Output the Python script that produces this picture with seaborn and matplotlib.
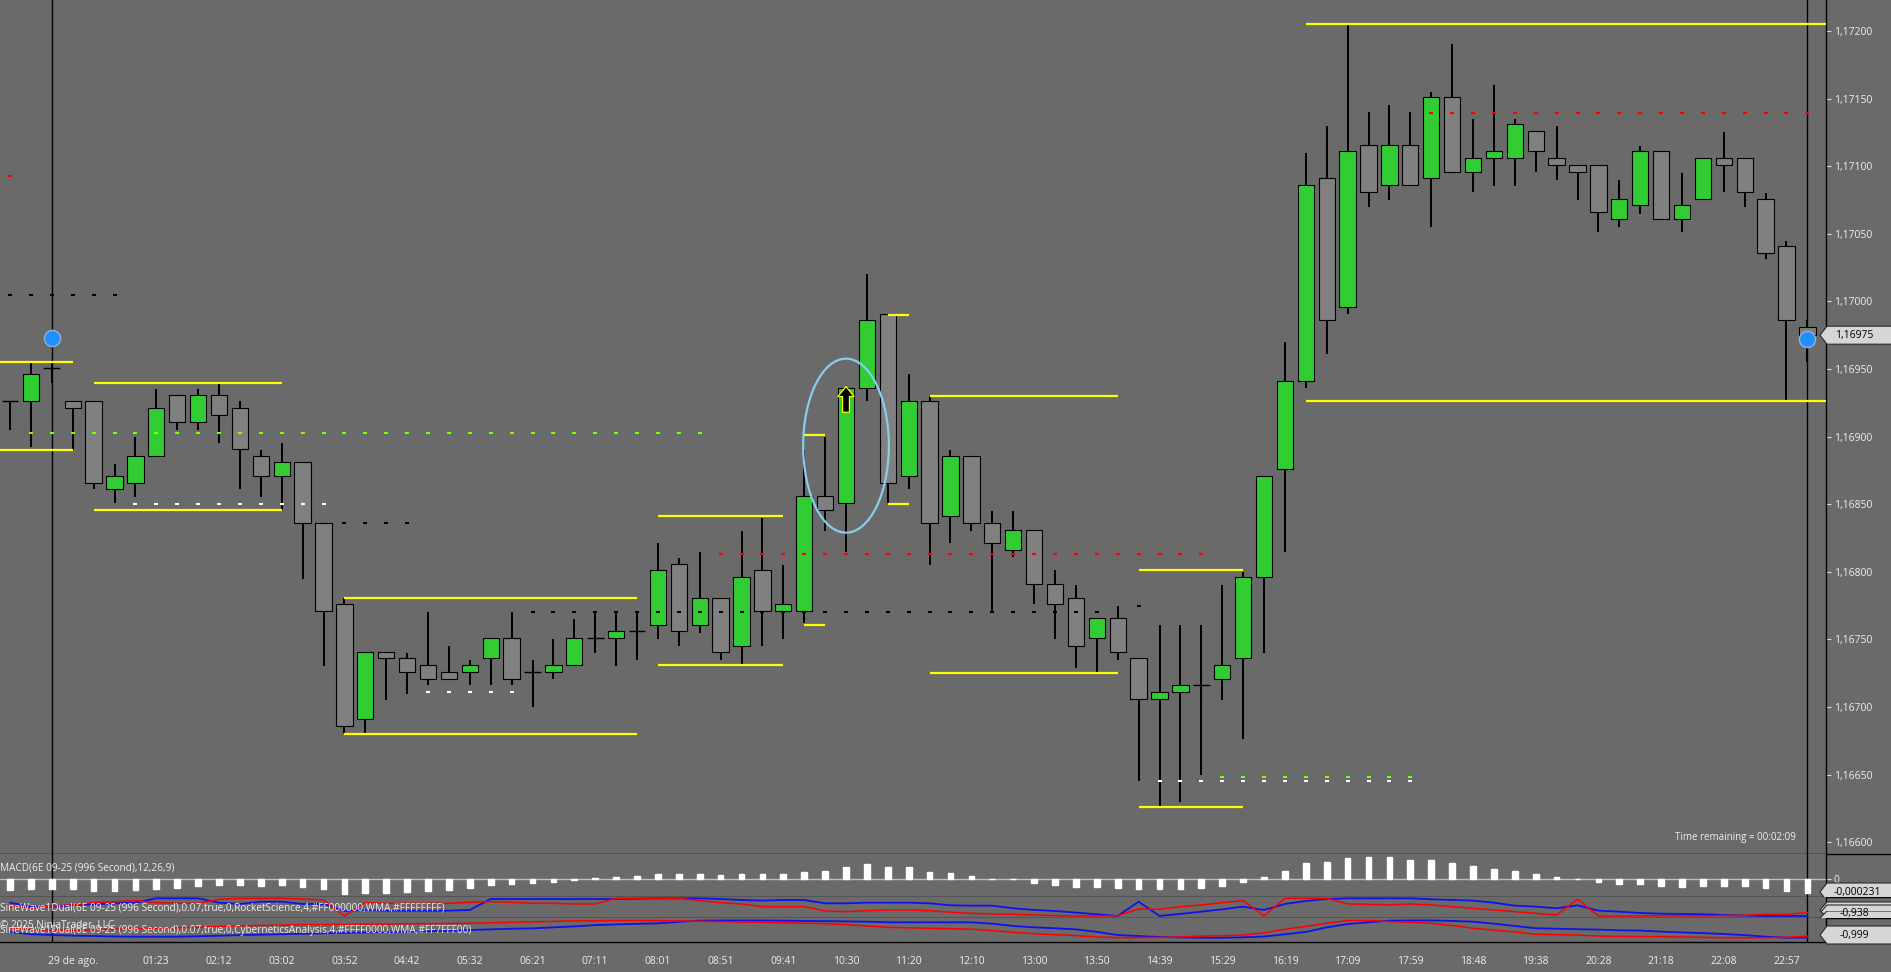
import numpy as np
import pandas as pd
import matplotlib
matplotlib.use("Agg")
import matplotlib.pyplot as plt
import seaborn as sns
from matplotlib.patches import Ellipse, Polygon, Rectangle

# === values: 6E 09-25, 996 second bars ===
opens = [1.16926, 1.16926, 1.16951, 1.16926, 1.16926, 1.16861, 1.16866, 1.16886, 1.16931, 1.16911,
         1.16931, 1.16921, 1.16886, 1.16871, 1.16881, 1.16836, 1.16776, 1.16691, 1.16741, 1.16736,
         1.16731, 1.16726, 1.16726, 1.16736, 1.16751, 1.16726, 1.16726, 1.16731, 1.16751, 1.16751,
         1.16756, 1.16761, 1.16806, 1.16761, 1.16781, 1.16745, 1.16801, 1.16771, 1.16771, 1.16856,
         1.16851, 1.16936, 1.16991, 1.16871, 1.16926, 1.16841, 1.16886, 1.16836, 1.16816, 1.16831,
         1.16791, 1.16781, 1.16751, 1.16766, 1.16736, 1.16706, 1.16711, 1.16716, 1.16721, 1.16736,
         1.16796, 1.16876, 1.16941, 1.17091, 1.16996, 1.17116, 1.17086, 1.17116, 1.17091, 1.17151,
         1.17096, 1.17106, 1.17106, 1.17126, 1.17106, 1.17101, 1.17101, 1.17061, 1.17071, 1.17111,
         1.17061, 1.17076, 1.17106, 1.17106, 1.17076, 1.17041, 1.16981]
highs = [1.16926, 1.16955, 1.16955, 1.16926, 1.16926, 1.16880, 1.16900, 1.16935, 1.16931, 1.16935,
         1.16940, 1.16926, 1.16890, 1.16895, 1.16881, 1.16836, 1.16781, 1.16741, 1.16741, 1.16740,
         1.16770, 1.16745, 1.16735, 1.16751, 1.16770, 1.16735, 1.16750, 1.16765, 1.16770, 1.16770,
         1.16770, 1.16821, 1.16810, 1.16815, 1.16781, 1.16830, 1.16840, 1.16805, 1.16890, 1.16900,
         1.16936, 1.17020, 1.16991, 1.16946, 1.16930, 1.16890, 1.16886, 1.16845, 1.16845, 1.16831,
         1.16801, 1.16790, 1.16766, 1.16775, 1.16736, 1.16761, 1.16761, 1.16761, 1.16790, 1.16800,
         1.16871, 1.16970, 1.17110, 1.17130, 1.17205, 1.17140, 1.17145, 1.17140, 1.17155, 1.17190,
         1.17135, 1.17160, 1.17135, 1.17126, 1.17130, 1.17101, 1.17101, 1.17090, 1.17115, 1.17111,
         1.17095, 1.17106, 1.17125, 1.17106, 1.17080, 1.17045, 1.16986]
lows = [1.16905, 1.16892, 1.16940, 1.16890, 1.16861, 1.16851, 1.16855, 1.16886, 1.16905, 1.16905,
        1.16895, 1.16861, 1.16855, 1.16846, 1.16795, 1.16730, 1.16681, 1.16681, 1.16705, 1.16710,
        1.16716, 1.16721, 1.16716, 1.16716, 1.16716, 1.16700, 1.16721, 1.16731, 1.16740, 1.16730,
        1.16735, 1.16750, 1.16745, 1.16755, 1.16735, 1.16730, 1.16745, 1.16750, 1.16762, 1.16830,
        1.16815, 1.16926, 1.16851, 1.16861, 1.16805, 1.16821, 1.16830, 1.16770, 1.16811, 1.16776,
        1.16750, 1.16729, 1.16726, 1.16735, 1.16645, 1.16626, 1.16630, 1.16650, 1.16705, 1.16676,
        1.16740, 1.16815, 1.16936, 1.16961, 1.16991, 1.17070, 1.17075, 1.17086, 1.17055, 1.17096,
        1.17081, 1.17085, 1.17085, 1.17096, 1.17090, 1.17075, 1.17051, 1.17055, 1.17065, 1.17061,
        1.17051, 1.17076, 1.17081, 1.17070, 1.17031, 1.16927, 1.16955]
closes = [1.16926, 1.16946, 1.16951, 1.16921, 1.16866, 1.16871, 1.16886, 1.16921, 1.16911, 1.16931,
          1.16916, 1.16891, 1.16871, 1.16881, 1.16836, 1.16771, 1.16686, 1.16741, 1.16736, 1.16726,
          1.16721, 1.16721, 1.16731, 1.16751, 1.16721, 1.16726, 1.16731, 1.16751, 1.16751, 1.16756,
          1.16756, 1.16801, 1.16756, 1.16781, 1.16741, 1.16796, 1.16771, 1.16776, 1.16856, 1.16846,
          1.16936, 1.16986, 1.16866, 1.16926, 1.16836, 1.16886, 1.16836, 1.16821, 1.16831, 1.16791,
          1.16776, 1.16745, 1.16766, 1.16741, 1.16706, 1.16711, 1.16716, 1.16716, 1.16731, 1.16796,
          1.16871, 1.16941, 1.17086, 1.16986, 1.17111, 1.17081, 1.17116, 1.17086, 1.17151, 1.17096,
          1.17106, 1.17111, 1.17131, 1.17111, 1.17101, 1.17096, 1.17066, 1.17076, 1.17111, 1.17061,
          1.17071, 1.17106, 1.17101, 1.17081, 1.17036, 1.16986, 1.16975]

macd_hist = [-0.000181, -0.000164, -0.000164, -0.000164, -0.000198, -0.000198, -0.000181, -0.000164, -0.000140, -0.000113,
             -0.000096, -0.000096, -0.000113, -0.000096, -0.000130, -0.000164, -0.000248, -0.000237, -0.000225, -0.000215,
             -0.000198, -0.000181, -0.000147, -0.000090, -0.000079, -0.000056, -0.000039, -0.000005, 0.000029, 0.000046,
             0.000063, 0.000096, 0.000096, 0.000096, 0.000079, 0.000096, 0.000096, 0.000096, 0.000123, 0.000140,
             0.000208, 0.000259, 0.000208, 0.000208, 0.000123, 0.000106, 0.000056, 0.000005, -0.000002, -0.000056,
             -0.000090, -0.000123, -0.000123, -0.000140, -0.000157, -0.000157, -0.000157, -0.000140, -0.000106, -0.000039,
             0.000039, 0.000140, 0.000275, 0.000292, 0.000360, 0.000377, 0.000377, 0.000326, 0.000326, 0.000275,
             0.000225, 0.000174, 0.000140, 0.000090, 0.000039, 0.000005, -0.000046, -0.000079, -0.000079, -0.000113,
             -0.000130, -0.000113, -0.000113, -0.000113, -0.000147, -0.000198, -0.000231]

sine1_blue = [0.51, 0.06, 0.06, 0.21, 0.32, 0.43, 0.51, 1.0, 1.0, 1.0,
              0.51, 0.36, 0.62, 0.62, 0.36, 0.36, -0.43, -0.32, -0.40, -0.40,
              -0.40, -0.40, -0.32, 0.92, 0.92, 0.92, 0.92, 0.92, 0.92, 0.92,
              0.95, 1.0, 1.0, 1.0, 0.92, 0.81, 0.74, 0.81, 0.81, 0.43,
              0.43, 0.51, 0.51, 0.51, 0.43, 0.21, 0.17, 0.17, -0.13, -0.32,
              -0.43, -0.62, -0.81, -1.0, 0.62, -1.0, -0.77, -0.51, -0.25, 0.06,
              -0.32, 0.36, 0.70, 0.92, 1.0, 1.0, 1.0, 1.0, 0.89, 0.81,
              0.74, 0.51, 0.17, 0.06, -0.13, 0.21, -0.40, -0.51, -0.66, -0.74,
              -0.77, -0.81, -0.89, -0.96, -1.0, -1.0, -1.0]
sine1_red = [0.06, -0.10, 0.13, 0.25, 0.51, 0.62, 0.74, 0.51, 0.43, 0.43,
             0.89, 1.0, 1.0, 1.0, 0.92, 0.81, -1.0, 0.51, 0.43, 0.43,
             0.43, 0.43, 0.55, 0.62, 0.55, 0.43, 0.43, 0.36, 0.36, 1.0,
             1.0, 1.0, 1.0, 0.74, 0.51, 0.36, 0.06, 0.06, 0.06, -0.43,
             -0.51, -0.40, -0.32, -0.32, -0.40, -0.58, -0.70, -0.77, -0.81, -0.89,
             -0.96, -1.0, -1.0, -0.96, -0.21, -0.25, 0.06, 0.25, 0.51, 0.74,
             -1.0, 1.0, 1.0, 1.0, 0.36, 0.32, 0.25, 0.36, 0.25, 0.06,
             -0.13, -0.32, -0.51, -0.70, -0.89, 0.92, -1.0, -1.0, -1.0, -0.98,
             -0.98, -0.98, -0.96, -0.92, -0.81, -0.81, -0.62]
sine2_blue = [-0.30, -0.55, -0.64, -0.70, -0.75, -0.80, -0.82, -0.82, -0.82, -0.78,
              -0.72, -0.64, -0.60, -0.55, -0.50, -0.45, -0.40, -0.36, -0.32, -0.27,
              -0.22, -0.18, -0.09, -0.02, 0.05, 0.09, 0.20, 0.30, 0.45, 0.52,
              0.58, 0.64, 0.80, 0.93, 0.95, 0.95, 0.95, 0.93, 0.90, 0.88,
              0.85, 0.82, 0.75, 0.75, 0.75, 0.75, 0.75, 0.60, 0.35, 0.20,
              0.10, -0.02, -0.30, -0.64, -0.75, -0.85, -0.90, -0.93, -0.93, -0.89,
              -0.80, -0.56, -0.30, 0.20, 0.56, 0.75, 0.93, 0.95, 0.95, 0.90,
              0.82, 0.60, 0.35, 0.10, 0.05, 0.00, -0.05, -0.12, -0.15, -0.27,
              -0.35, -0.43, -0.53, -0.65, -0.82, -0.93, -0.93]
sine2_red = [0.10, -0.05, -0.10, -0.10, -0.05, 0.00, 0.05, 0.10, 0.15, 0.20,
             0.30, 0.35, 0.40, 0.45, 0.50, 0.50, 0.52, 0.55, 0.55, 0.60,
             0.60, 0.62, 0.65, 0.70, 0.75, 0.80, 0.85, 0.90, 0.92, 0.95,
             0.95, 0.93, 0.90, 0.87, 0.82, 0.78, 0.74, 0.71, 0.65, 0.60,
             0.50, 0.35, 0.20, 0.15, 0.10, 0.05, 0.00, -0.15, -0.35, -0.50,
             -0.60, -0.70, -0.85, -0.93, -0.92, -0.90, -0.85, -0.75, -0.72, -0.64,
             -0.40, 0.00, 0.30, 0.65, 0.95, 0.95, 0.82, 0.75, 0.64, 0.40,
             0.10, -0.10, -0.30, -0.56, -0.60, -0.65, -0.75, -0.78, -0.80, -0.82,
             -0.85, -0.90, -0.93, -0.93, -0.93, -0.89, -0.75]

# range lines: first bar, last bar, upper price, lower price
range_first = [-1, 4, 16, 31, 38, 42, 44, 54, 62]
range_last = [3, 13, 30, 37, 39, 43, 53, 59, 88]
range_top = [1.16955, 1.16940, 1.16781, 1.16841, 1.16901, 1.16990, 1.16930, 1.16801, 1.17205]
range_bottom = [1.16890, 1.16846, 1.16680, 1.16731, 1.16761, 1.16850, 1.16725, 1.16626, 1.16926]

# dotted levels: first bar, last bar, price, colour
level_first = [0, 1, 6, 16, 20, 25, 54, 34, 68, 0, 55, 58]
level_last = [5, 33, 15, 19, 24, 52, 54, 57, 86, 0, 67, 67]
level_price = [1.17005, 1.16903, 1.16850, 1.16836, 1.16711, 1.16770, 1.16775,
               1.16813, 1.17139, 1.17093, 1.16645, 1.16648]
level_color = ["black", "#7FFF00", "white", "black", "white", "black", "black",
               "#FF0000", "#FF0000", "#FF0000", "white", "#7FFF00"]

signal_bars = [2, 86]
signal_prices = [1.16973, 1.16972]
arrow_bar, arrow_low, arrow_high = 40, 1.16918, 1.16937
ellipse_bar, ellipse_price = 40, 1.168933

day_label = "29 de ago."
time_labels = ["01:23", "02:12", "03:02", "03:52", "04:42", "05:32", "06:21", "07:11", "08:01",
               "08:51", "09:41", "10:30", "11:20", "12:10", "13:00", "13:50", "14:39", "15:29",
               "16:19", "17:09", "17:59", "18:48", "19:38", "20:28", "21:18", "22:08", "22:57"]

BG = "#6A6A6A"
TXT = "#EEEEEE"
W, H = 1891, 972


def fig_box(x0, y0, x1, y1):
    return [x0 / W, 1 - y1 / H, (x1 - x0) / W, (y1 - y0) / H]


def price_fmt(v, _pos=None):
    return f"{v:.5f}".replace(".", ",")


def draw_tag(ax, yc, h, text, clip, text_x=1854):
    pts = [(1820, yc), (1827, yc - h / 2), (W + 2, yc - h / 2), (W + 2, yc + h / 2), (1827, yc + h / 2)]
    poly = Polygon(pts, closed=True, fc="#D6D6D6", ec="#2A2A2A", lw=0.8, zorder=20)
    ax.add_patch(poly)
    rect = Rectangle((1800, clip[0]), 100, clip[1] - clip[0], transform=ax.transData)
    poly.set_clip_path(rect)
    if text:
        t = ax.text(text_x, yc, text, ha="center", va="center", fontsize=7.5, color="black", zorder=21)
        t.set_clip_path(rect)


def plot_chart():
    sns.set_theme(style="dark", rc={"axes.facecolor": BG, "figure.facecolor": BG})
    plt.rcParams["font.family"] = ["Open Sans", "DejaVu Sans"]

    df = pd.DataFrame({"open": opens, "high": highs, "low": lows, "close": closes})
    df["bar"] = np.arange(len(df))
    up = df[df.close > df.open]
    down = df[df.close < df.open]
    flat = df[df.close == df.open]

    fig = plt.figure(figsize=(W / 100, H / 100), dpi=100)
    ax = fig.add_axes(fig_box(0, 0, 1826, 854))
    ax_macd = fig.add_axes(fig_box(0, 854, 1826, 897), sharex=ax)
    ax_s1 = fig.add_axes(fig_box(0, 897, 1826, 918), sharex=ax)
    ax_s2 = fig.add_axes(fig_box(0, 918, 1826, 942), sharex=ax)

    for a in (ax, ax_macd, ax_s1, ax_s2):
        a.set_facecolor(BG)
        a.grid(False)
        for side in ("top", "left"):
            a.spines[side].set_visible(False)
        for side in ("bottom", "right"):
            a.spines[side].set_visible(True)
            a.spines[side].set_color("black")
            a.spines[side].set_linewidth(1.0)
        for b in signal_bars:
            a.axvline(b, color="black", lw=1.0, zorder=2)

    # --- candles ---
    ax.vlines(df.bar, df.low, df.high, color="black", lw=1.45, zorder=3)
    ax.bar(up.bar, up.close - up.open, bottom=up.open, width=0.78, color="#32CD32",
           edgecolor="black", linewidth=0.8, zorder=4)
    ax.bar(down.bar, down.open - down.close, bottom=down.close, width=0.78, color="#808080",
           edgecolor="black", linewidth=0.8, zorder=4)
    ax.hlines(flat.close, flat.bar - 0.4, flat.bar + 0.4, color="black", lw=1.0, zorder=4)

    # --- range lines ---
    for a0, a1, top, bot in zip(range_first, range_last, range_top, range_bottom):
        ax.hlines([top, bot], a0, a1, color="#FFFF00", lw=1.6, zorder=5)

    # --- dotted levels ---
    for a0, a1, p, c in zip(level_first, level_last, level_price, level_color):
        bars = np.arange(a0, a1 + 1)
        ax.plot(bars, [p] * len(bars), linestyle="none", marker="_", ms=2.6, mew=1.5,
                color=c, zorder=6)

    sns.scatterplot(x=signal_bars, y=signal_prices, s=135, color="#1E90FF",
                    edgecolor="#9AB0CC", linewidth=1.0, ax=ax, zorder=8)
    ax.add_patch(Ellipse((ellipse_bar, ellipse_price), width=4.1, height=0.001287, fill=False,
                         ec="#87CEEB", lw=1.6, zorder=7))
    ax.annotate("", xy=(arrow_bar, arrow_high), xytext=(arrow_bar, arrow_low),
                arrowprops=dict(arrowstyle="simple,head_length=0.55,head_width=0.9,tail_width=0.38",
                                fc="black", ec="#FFFF00", lw=0.9, mutation_scale=13,
                                shrinkA=0, shrinkB=0), zorder=8)

    ax.set_xlim(-10 / 20.9, (1826 - 10) / 20.9)
    ax.set_ylim(1.165913, 1.172229)
    ax.yaxis.tick_right()
    ax.set_yticks(np.arange(1.166, 1.17201, 0.0005))
    ax.yaxis.set_major_formatter(plt.FuncFormatter(price_fmt))
    ax.tick_params(axis="y", direction="out", length=3.5, width=0.8, color="#D8D8D8",
                   labelcolor=TXT, labelsize=7.5, pad=2)
    ax.text(0.9836, 0.0199, "Time remaining = 00:02:09", transform=ax.transAxes,
            ha="right", va="center", fontsize=7.0, color=TXT)

    # --- MACD histogram ---
    ax_macd.bar(df.bar, macd_hist, width=0.27, color="white", zorder=3)
    ax_macd.axhline(0, color="#BEBEBE", lw=1.0, zorder=2)
    ax_macd.set_ylim(-0.000299, 0.000428)
    ax_macd.yaxis.tick_right()
    ax_macd.set_yticks([0])
    ax_macd.set_yticklabels(["0"])
    ax_macd.tick_params(axis="y", direction="out", length=3.5, width=0.8, color="#D8D8D8",
                        labelcolor=TXT, labelsize=7.5, pad=2)
    ax_macd.text(0.0, 0.68, "MACD(6E 09-25 (996 Second),12,26,9)", transform=ax_macd.transAxes,
                 ha="left", va="center", fontsize=7.2, color=TXT)

    # --- sine wave panels ---
    sns.lineplot(x=df.bar, y=sine1_blue, ax=ax_s1, color="#1010F0", lw=1.3, zorder=3)
    sns.lineplot(x=df.bar, y=sine1_red, ax=ax_s1, color="#FF0000", lw=1.1, zorder=4)
    ax_s1.set_ylim(-1.23, 1.15)
    ax_s1.text(0.0, 0.48, "SineWave1Dual(6E 09-25 (996 Second),0.07,true,0,RocketScience,4,#FF000000,WMA,#FFFFFFFF)",
               transform=ax_s1.transAxes, ha="left", va="center", fontsize=7.2, color=TXT, zorder=5)
    sns.lineplot(x=df.bar, y=sine2_blue, ax=ax_s2, color="#1010F0", lw=1.3, zorder=3)
    sns.lineplot(x=df.bar, y=sine2_red, ax=ax_s2, color="#FF0000", lw=1.1, zorder=4)
    ax_s2.set_ylim(-1.40, 1.22)
    ax_s2.text(0.0, 0.47, "SineWave1Dual(6E 09-25 (996 Second),0.07,true,0,CyberneticsAnalysis,4,#FFFF0000,WMA,#FF7FFF00)",
               transform=ax_s2.transAxes, ha="left", va="center", fontsize=7.2, color=TXT, zorder=5)
    for a in (ax_s1, ax_s2):
        a.set_yticks([])
        a.set_ylabel("")
        a.set_xlabel("")

    # --- time axis ---
    tick_pos = [1, 3, 4] + list(range(7, 86, 3))
    ax_s2.set_xticks(tick_pos)
    ax_s2.set_xticklabels(["", day_label, ""] + time_labels)
    ax_s2.tick_params(axis="x", direction="out", length=4, width=0.9, color="black",
                      labelcolor=TXT, labelsize=7.5, pad=6)
    for a in (ax, ax_macd, ax_s1):
        a.tick_params(axis="x", which="both", bottom=False, labelbottom=False)
    ax.set_xlim(-10 / 20.9, (1826 - 10) / 20.9)

    fig.text(0.0, 1 - 925 / H, "© 2025 NinjaTrader, LLC", ha="left", va="center",
             fontsize=7.2, color=TXT, zorder=12)

    # --- price tags on the right ---
    ov = fig.add_axes([0, 0, 1, 1], zorder=10)
    ov.set_xlim(0, W)
    ov.set_ylim(H, 0)
    ov.axis("off")
    ov.patch.set_alpha(0)
    ov.hlines([854, 897, 918], 1826, W, color="black", lw=1.0)
    y_close = H - ax.transData.transform((0, closes[-1]))[1]
    draw_tag(ov, y_close, 18, price_fmt(closes[-1]), (0, 854))
    draw_tag(ov, 892, 18, "-0,000231", (854, 897), text_x=1857)
    draw_tag(ov, 910, 16, "", (897, 918))
    draw_tag(ov, 913, 16, "-0,938", (897, 910.5), text_x=1854)
    draw_tag(ov, 918, 14, "", (910.5, 918))
    draw_tag(ov, 935, 18, "-0,999", (918, 946))

    fig.savefig("out.png", dpi=100, facecolor=BG)
    plt.close(fig)


if __name__ == "__main__":
    plot_chart()
